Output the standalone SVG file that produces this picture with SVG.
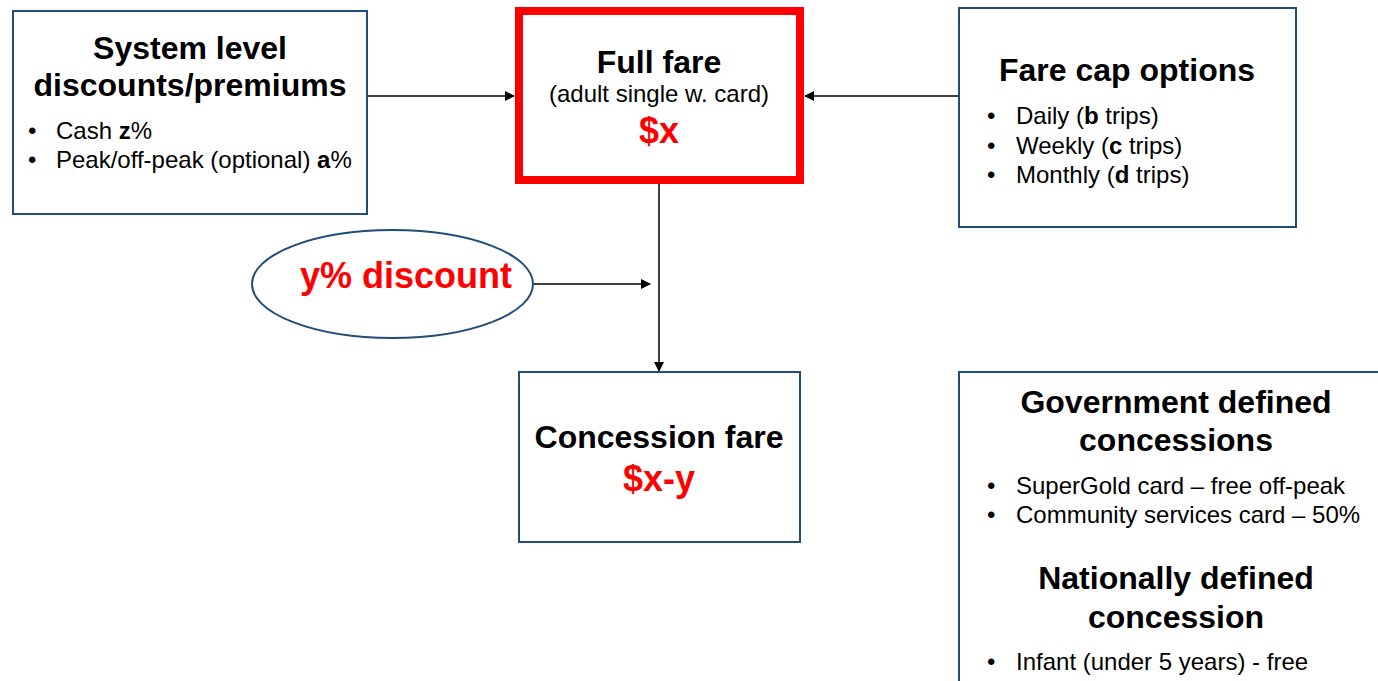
<svg xmlns="http://www.w3.org/2000/svg" width="1378" height="681" viewBox="0 0 1378 681">
<style>
text{font-family:"Liberation Sans",Arial,sans-serif;fill:#000}
.h{font-weight:bold;font-size:32px;text-anchor:middle}
.t{font-size:24px}
.r{fill:#ff0000;font-weight:bold;font-size:36px;text-anchor:middle}
.box{fill:#fff;stroke:#1f4e79;stroke-width:2}
.c{stroke:#000;stroke-width:1.5;fill:none}
</style>
<defs>
<marker id="ah" markerWidth="10" markerHeight="10" refX="9" refY="5" orient="auto" markerUnits="userSpaceOnUse">
<path d="M0,0 L10,5 L0,10 z" fill="#000"/>
</marker>
</defs>
<rect width="1378" height="681" fill="#fff"/>
<g id="connectors">
<line class="c" x1="367" y1="96" x2="514" y2="96" marker-end="url(#ah)"/>
<line class="c" x1="959" y1="96" x2="805" y2="96" marker-end="url(#ah)"/>
<line class="c" x1="659" y1="184" x2="659" y2="371" marker-end="url(#ah)"/>
<line class="c" x1="533" y1="284" x2="650" y2="284" marker-end="url(#ah)"/>
</g>
<g id="system-level">
<rect class="box" x="13" y="11" width="354" height="203"/>
<text class="h" x="190" y="59">System level</text>
<text class="h" x="190" y="96">discounts/premiums</text>
<text class="t" x="28" y="139">•</text>
<text class="t" x="56" y="139">Cash <tspan font-weight="bold">z</tspan>%</text>
<text class="t" x="28" y="168">•</text>
<text class="t" x="56" y="168">Peak/off-peak (optional) <tspan font-weight="bold">a</tspan>%</text>
</g>
<g id="full-fare">
<rect x="519" y="11" width="281" height="169" fill="#fff" stroke="#ff0000" stroke-width="8"/>
<text class="h" x="659" y="73">Full fare</text>
<text class="t" x="659" y="102" text-anchor="middle">(adult single w. card)</text>
<text class="r" x="659" y="143">$x</text>
</g>
<g id="fare-cap">
<rect class="box" x="959" y="8" width="337" height="219"/>
<text class="h" x="1127" y="81">Fare cap options</text>
<text class="t" x="987" y="124">•</text>
<text class="t" x="1016" y="124">Daily (<tspan font-weight="bold">b</tspan> trips)</text>
<text class="t" x="987" y="154">•</text>
<text class="t" x="1016" y="154">Weekly (<tspan font-weight="bold">c</tspan> trips)</text>
<text class="t" x="987" y="183">•</text>
<text class="t" x="1016" y="183">Monthly (<tspan font-weight="bold">d</tspan> trips)</text>
</g>
<g id="discount">
<ellipse cx="392.5" cy="284" rx="140.5" ry="54" fill="#fff" stroke="#1f4e79" stroke-width="2"/>
<text class="r" x="406" y="288">y% discount</text>
</g>
<g id="concession">
<rect class="box" x="519" y="372" width="281" height="170"/>
<text class="h" x="659" y="448">Concession fare</text>
<text class="r" x="659" y="491">$x-y</text>
</g>
<g id="government">
<rect class="box" x="959" y="372" width="430" height="320"/>
<text class="h" x="1176" y="413">Government defined</text>
<text class="h" x="1176" y="451">concessions</text>
<text class="t" x="987" y="494">•</text>
<text class="t" x="1016" y="494">SuperGold card – free off-peak</text>
<text class="t" x="987" y="523">•</text>
<text class="t" x="1016" y="523">Community services card – 50%</text>
<text class="h" x="1176" y="589">Nationally defined</text>
<text class="h" x="1176" y="628">concession</text>
<text class="t" x="987" y="670">•</text>
<text class="t" x="1016" y="670">Infant (under 5 years) - free</text>
</g>
</svg>
